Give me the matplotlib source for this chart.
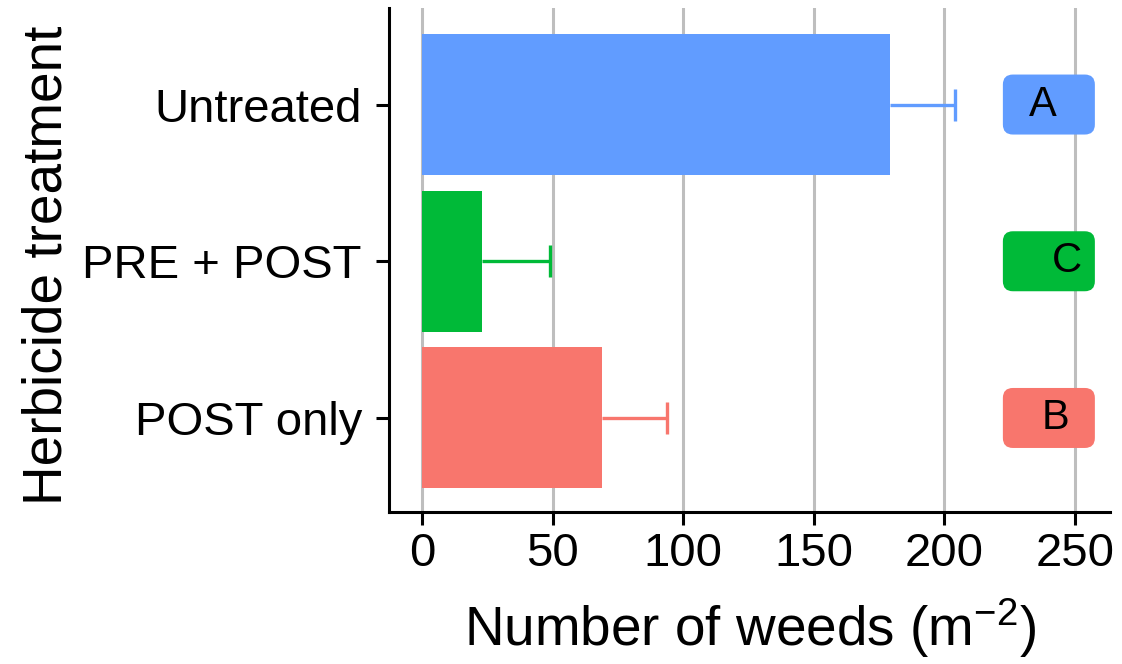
import matplotlib
matplotlib.use("Agg")
import matplotlib.pyplot as plt
import matplotlib.transforms as mtransforms
from matplotlib.patches import FancyBboxPatch

# Data
treatments = ["POST only", "PRE + POST", "Untreated"]
means = [69, 23, 179]
errors = [25, 26, 25]
letters = ["B", "C", "A"]
colors = ["#F8766D", "#00BA38", "#619CFF"]
xticks = [0, 50, 100, 150, 200, 250]
label_x = 240

plt.rcParams['font.family'] = ['Liberation Sans', 'DejaVu Sans']
plt.rcParams['mathtext.fontset'] = 'custom'
plt.rcParams['mathtext.rm'] = 'Liberation Sans'
plt.rcParams['mathtext.it'] = 'Liberation Sans'
plt.rcParams['mathtext.default'] = 'regular'

fig = plt.figure(figsize=(11.22, 6.64), dpi=100)
ax = fig.add_axes([389/1122, (664-512)/664, (1110-389)/1122, (512-8)/664])

ypos = list(range(1, len(treatments) + 1))

ax.set_axisbelow(True)
ax.xaxis.grid(True, color="#BEBEBE", linewidth=2.2)
ax.yaxis.grid(False)

ax.barh(ypos, means, height=0.9, color=colors, edgecolor="none", zorder=2)
for y, m, e, c in zip(ypos, means, errors, colors):
    ax.errorbar(m, y, xerr=[[0], [e]], color=c, linewidth=2.4, capsize=0,
                zorder=3, fmt="none")
    ax.plot([m + e], [y], marker="|", markersize=23, markeredgewidth=2.4,
            color=c, zorder=3, linestyle="none")

# letter labels
text_dx = {"A": -6, "C": 18, "B": 7}
box_w, box_h = 92, 60
for y, lab, c in zip(ypos, letters, colors):
    trans = mtransforms.IdentityTransform() + mtransforms.ScaledTranslation(label_x, y, ax.transData)
    p = FancyBboxPatch((-box_w/2, -box_h/2), box_w, box_h,
                       boxstyle="round,pad=0,rounding_size=10",
                       facecolor=c, edgecolor="none", transform=trans, zorder=4,
                       clip_on=False)
    ax.add_patch(p)
    ax.annotate(lab, xy=(label_x, y), xytext=(text_dx[lab], 0), textcoords="offset pixels",
                ha="center", va="center", fontsize=30, color="black", zorder=5)

ax.set_xlim(-12.6, 263.4)
ax.set_ylim(0.4, 3.616)
ax.set_xticks(xticks)
ax.set_xticklabels([str(t) for t in xticks])
ax.set_yticks(ypos)
ax.set_yticklabels(treatments)

for s in ["top", "right"]:
    ax.spines[s].set_visible(False)
for s in ["left", "bottom"]:
    ax.spines[s].set_linewidth(2.2)
    ax.spines[s].set_color("black")

ax.tick_params(axis="both", length=9.5, width=2.2, color="black", labelsize=34,
               labelcolor="black")
ax.tick_params(axis="x", pad=5)
ax.tick_params(axis="y", pad=10)

ax.set_xlabel("Number of weeds (m$^{-2}$)", fontsize=39.5)
ax.xaxis.set_label_coords(0.5, -0.167)
ax.set_ylabel("Herbicide treatment", fontsize=39.5)
ax.yaxis.set_label_coords(-0.438, 0.49)

fig.savefig("out.png", dpi=100)
